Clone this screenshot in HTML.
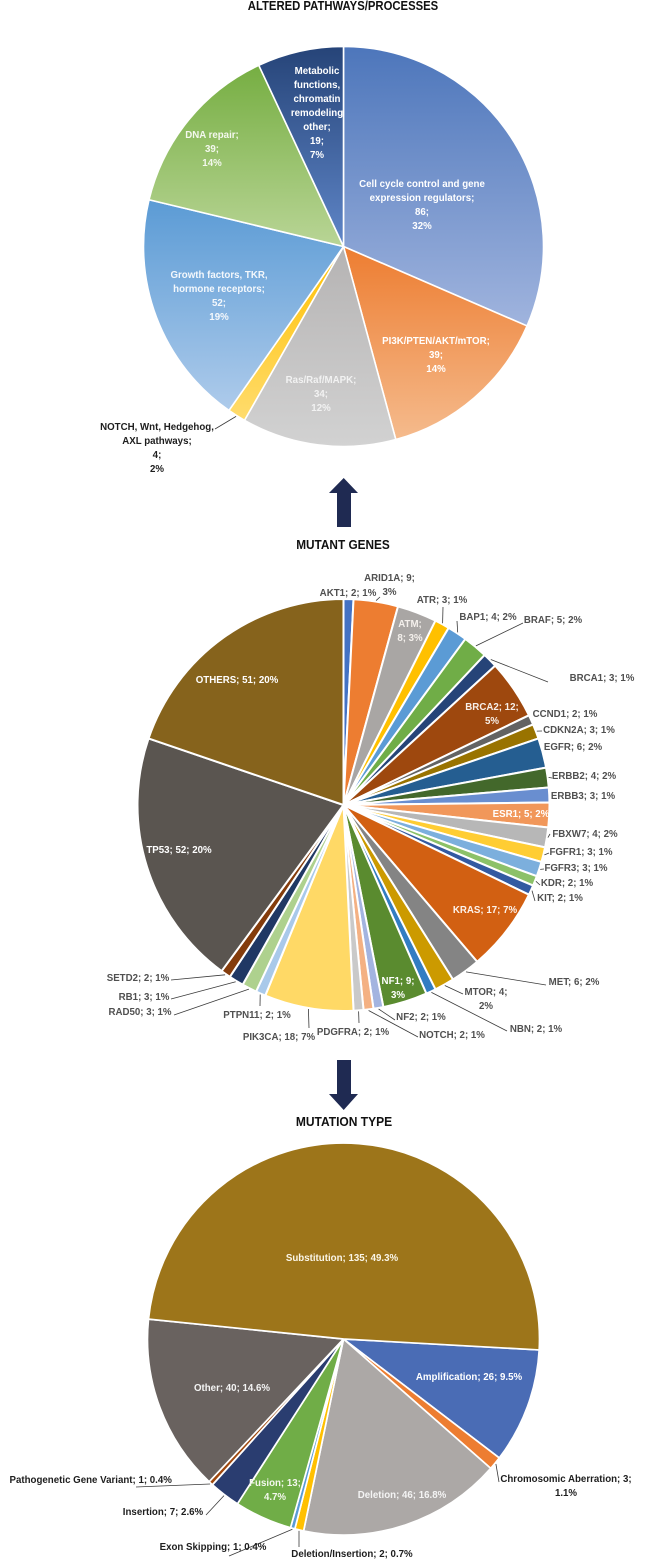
<!DOCTYPE html>
<html lang="en">
<head>
<meta charset="utf-8">
<title>Altered pathways, mutant genes and mutation types</title>
<style>
html,body{margin:0;padding:0;background:#fff;}
body{width:667px;height:1559px;overflow:hidden;}
svg{display:block;filter:blur(0.3px);}
text{font-family:"Liberation Sans",sans-serif;font-weight:bold;}
</style>
</head>
<body>
<svg id="chart" xmlns="http://www.w3.org/2000/svg" width="667" height="1559" viewBox="0 0 667 1559">
  <defs id="gradients"></defs>
  <polygon points="337,527 351,527 351,493 358,493 343.7,478 329,493 337,493" fill="#1f2a52"/>
  <polygon points="337,1060 351,1060 351,1094 358,1094 343.7,1110 329,1094 337,1094" fill="#1f2a52"/>
</svg>
<script>
/* ---------- data: altered pathways ---------- */
const pathwayNames = ["Cell cycle control and gene\nexpression regulators", "PI3K/PTEN/AKT/mTOR", "Ras/Raf/MAPK", "NOTCH, Wnt, Hedgehog,\nAXL pathways", "Growth factors, TKR,\nhormone receptors", "DNA repair", "Metabolic\nfunctions,\nchromatin\nremodeling\nother"];
const pathwayCounts = [86, 39, 34, 4, 52, 39, 19];
const pathwayPercents = ["32%", "14%", "12%", "2%", "19%", "14%", "7%"];

/* ---------- data: mutant genes ---------- */
const geneNames = ["AKT1", "ARID1A", "ATM", "ATR", "BAP1", "BRAF", "BRCA1", "BRCA2", "CCND1", "CDKN2A", "EGFR", "ERBB2", "ERBB3", "ESR1", "FBXW7", "FGFR1", "FGFR3", "KDR", "KIT", "KRAS", "MET", "MTOR", "NBN", "NF1", "NF2", "NOTCH", "PDGFRA", "PIK3CA", "PTPN11", "RAD50", "RB1", "SETD2", "TP53", "OTHERS"];
const geneCounts = [2, 9, 8, 3, 4, 5, 3, 12, 2, 3, 6, 4, 3, 5, 4, 3, 3, 2, 2, 17, 6, 4, 2, 9, 2, 2, 2, 18, 2, 3, 3, 2, 52, 51];
const genePercents = ["1%", "3%", "3%", "1%", "2%", "2%", "1%", "5%", "1%", "1%", "2%", "2%", "1%", "2%", "2%", "1%", "1%", "1%", "1%", "7%", "2%", "2%", "1%", "3%", "1%", "1%", "1%", "7%", "1%", "1%", "1%", "1%", "20%", "20%"];

/* ---------- data: mutation types ---------- */
const mutationNames = ["Amplification", "Chromosomic Aberration", "Deletion", "Deletion/Insertion", "Exon Skipping", "Fusion", "Insertion", "Pathogenetic Gene Variant", "Other", "Substitution"];
const mutationCounts = [26, 3, 46, 2, 1, 13, 7, 1, 40, 135];
const mutationPercents = ["9.5%", "1.1%", "16.8%", "0.7%", "0.4%", "4.7%", "2.6%", "0.4%", "14.6%", "49.3%"];

/* ---------- styling and layout (separate from data) ---------- */
const pathwayGradients = [["#4d76bb","#a0b4de"],["#ed7d31","#f5bb8d"],["#b5b3b3","#d2d2d2"],["#ffc000","#ffdc6e"],["#5b9bd5","#aecbeb"],["#76ae42","#b9d596"],["#264478","#5f86c8"]];
const geneColors = ["#4472c4","#ed7d31","#a9a6a4","#ffc000","#5b9bd5","#70ad47","#264478","#9e480e","#636363","#997300","#255e91","#43682b","#698ed0","#f1975a","#b7b7b7","#ffcd33","#7cafdd","#8cc168","#335aa1","#d26012","#848484","#cc9a00","#327dc2","#5a8b2f","#a3b4e0","#f4b183","#c9c9c9","#ffd966","#a9c9ea","#aed18e","#203864","#843c0c","#5a5550","#86631c"];
const mutationColors = ["#4a6cb5","#ed7d31","#aca8a6","#ffc000","#5b9bd5","#70ad47","#2a3d70","#9e480e","#69625f","#9d751a"];

const WHITE = "#ffffff", DARK = "#1e1e1e", GREY = "#505050";

const pathwayLabels = [
 {x:422,y:187,fill:WHITE,wrap:"stack"},
 {x:436,y:344,fill:WHITE,wrap:"stack"},
 {x:321,y:383,fill:"#f2f2f2",wrap:"stack"},
 {x:157,y:430,fill:DARK,wrap:"stack",leader:[215,429]},
 {x:219,y:278,fill:"#f4f8fc",wrap:"stack"},
 {x:212,y:138,fill:"#f4f8ee",wrap:"stack"},
 {x:317,y:74,fill:WHITE,wrap:"stack"}
];
const geneLabels = [
 {x:348,y:596},
 {x:389.5,y:581,wrap:"pct",leader:[380,597]},
 {x:410,y:627,fill:"#f4f0ec",wrap:"name"},
 {x:442,y:603,leader:[443,607]},
 {x:488,y:620,leader:[457,621]},
 {x:553,y:623,leader:[523,623]},
 {x:602,y:681,leader:[548,682]},
 {x:492,y:710,fill:"#f7efe9",wrap:"pct"},
 {x:565,y:717},
 {x:579,y:733,leader:[542,731]},
 {x:573,y:750},
 {x:584,y:779,leader:[552,778]},
 {x:583,y:799},
 {x:521,y:817,fill:WHITE},
 {x:585,y:837,leader:[550,834]},
 {x:581,y:855,leader:[549,853]},
 {x:576,y:871,leader:[544,869]},
 {x:567,y:886,leader:[540,885]},
 {x:560,y:901,leader:[535,901]},
 {x:485,y:913,fill:"#fdf3ec"},
 {x:574,y:985,leader:[546,985]},
 {x:486,y:995,wrap:"pct",leader:[463,994]},
 {x:536,y:1032,leader:[507,1031]},
 {x:398,y:984,fill:WHITE,wrap:"pct"},
 {x:421,y:1020,leader:[395,1020]},
 {x:452,y:1038,leader:[418,1037]},
 {x:353,y:1035,leader:[359,1023]},
 {x:279,y:1040,leader:[309,1028]},
 {x:257,y:1018,leader:[260,1006]},
 {x:140,y:1015,leader:[174,1015]},
 {x:144,y:1000,leader:[171,999]},
 {x:138,y:981,leader:[171,980]},
 {x:179,y:853,fill:WHITE},
 {x:237,y:683,fill:WHITE}
];
const mutationLabels = [
 {x:469,y:1380,fill:WHITE},
 {x:566,y:1482,fill:DARK,wrap:"pct",leader:[499,1482]},
 {x:402,y:1498,fill:"#f4f4f4"},
 {x:352,y:1557,fill:DARK,leader:[299,1547]},
 {x:213,y:1550,fill:DARK,leader:[229,1556]},
 {x:275,y:1486,fill:"#f4f8ee",wrap:"pct"},
 {x:163,y:1515,fill:DARK,leader:[206,1515]},
 {x:90.7,y:1483,fill:DARK,leader:[136,1487]},
 {x:232,y:1391,fill:"#f4f4f4"},
 {x:342,y:1261,fill:"#fbf6e8"}
];

const NS = "http://www.w3.org/2000/svg";
const svg = document.getElementById("chart");
const defs = document.getElementById("gradients");
const LINE_HEIGHT = 14;
const TEXT_FONT = 10.5;
const TEXT_SQUEEZE = 0.925;

function slug(s){
  return s.toLowerCase().replace(/[^a-z0-9]+/g,"-").replace(/^-|-$/g,"");
}
function polar(cx, cy, r, deg){
  const a = deg * Math.PI / 180;
  return [cx + r * Math.sin(a), cy - r * Math.cos(a)];
}
function labelLines(name, count, pct, wrap){
  if (wrap === "stack") return (name + ";").split("\n").concat([count + ";", pct]);
  if (wrap === "pct") return [name + "; " + count + ";", pct];
  if (wrap === "name") return [name + ";", count + "; " + pct];
  return [name + "; " + count + "; " + pct];
}
function addGradient(id, stops){
  const g = document.createElementNS(NS, "linearGradient");
  g.setAttribute("id", id);
  g.setAttribute("x1", "0"); g.setAttribute("y1", "0");
  g.setAttribute("x2", "0"); g.setAttribute("y2", "1");
  stops.forEach(function(c, i){
    const s = document.createElementNS(NS, "stop");
    s.setAttribute("offset", String(i));
    s.setAttribute("stop-color", c);
    g.appendChild(s);
  });
  defs.appendChild(g);
}
function drawPie(cfg){
  const total = cfg.counts.reduce(function(a, b){ return a + b; }, 0);
  const group = document.createElementNS(NS, "g");
  
  
  svg.appendChild(group);
  let cum = 0;
  cfg.counts.forEach(function(count, i){
    const a0 = cfg.start + cum / total * 360;
    cum += count;
    const a1 = cfg.start + cum / total * 360;
    const p0 = polar(cfg.cx, cfg.cy, cfg.r, a0);
    const p1 = polar(cfg.cx, cfg.cy, cfg.r, a1);
    const large = a1 - a0 > 180 ? 1 : 0;
    const path = document.createElementNS(NS, "path");
    path.setAttribute("d", "M" + cfg.cx + " " + cfg.cy + "L" + p0[0].toFixed(2) + " " + p0[1].toFixed(2) +
      "A" + cfg.r + " " + cfg.r + " 0 " + large + " 1 " + p1[0].toFixed(2) + " " + p1[1].toFixed(2) + "Z");
    let fill;
    if (cfg.gradients) {
      const gid = cfg.id + "-grad-" + i;
      addGradient(gid, cfg.gradients[i]);
      fill = "url(#" + gid + ")";
    } else {
      fill = cfg.colors[i];
    }
    path.setAttribute("fill", fill);
    path.setAttribute("stroke", "#ffffff");
    path.setAttribute("stroke-width", cfg.stroke);
    path.setAttribute("stroke-linejoin", "round");
    
    
    group.appendChild(path);
  });
  cum = 0;
  cfg.counts.forEach(function(count, i){
    const mid = cfg.start + (cum + count / 2) / total * 360;
    cum += count;
    const lab = cfg.labels[i];
    if (lab.leader) {
      const s = polar(cfg.cx, cfg.cy, cfg.r + 1, mid);
      const line = document.createElementNS(NS, "line");
      line.setAttribute("x1", s[0].toFixed(1));
      line.setAttribute("y1", s[1].toFixed(1));
      line.setAttribute("x2", lab.leader[0]);
      line.setAttribute("y2", lab.leader[1]);
      line.setAttribute("stroke", "#3a3a3a");
      line.setAttribute("stroke-width", "0.8");
      
      
      group.appendChild(line);
    }
    const text = document.createElementNS(NS, "text");
    text.setAttribute("transform", "translate(" + lab.x + " " + lab.y + ") scale(" + TEXT_SQUEEZE + " 1)");
    text.setAttribute("text-anchor", "middle");
    text.setAttribute("font-size", TEXT_FONT);
    text.setAttribute("fill", lab.fill || cfg.labelFill);
    
    
    labelLines(cfg.names[i], count, cfg.percents[i], lab.wrap).forEach(function(str, n){
      const t = document.createElementNS(NS, "tspan");
      t.setAttribute("x", "0");
      t.setAttribute("y", String(n * LINE_HEIGHT));
      t.textContent = str;
      text.appendChild(t);
    });
    group.appendChild(text);
  });
}
function drawTitle(str, x, y, squeeze, name){
  const t = document.createElementNS(NS, "text");
  t.setAttribute("transform", "translate(" + x + " " + y + ") scale(" + squeeze + " 1)");
  t.setAttribute("text-anchor", "middle");
  t.setAttribute("font-size", "13");
  t.setAttribute("fill", "#111111");
  
  
  t.textContent = str;
  svg.appendChild(t);
}

drawTitle("ALTERED PATHWAYS/PROCESSES", 343, 10, 0.87, "pathways-title");
drawTitle("MUTANT GENES", 343, 549, 0.91, "genes-title");
drawTitle("MUTATION TYPE", 344, 1126, 0.925, "mutation-type-title");

drawPie({id:"pathways", cx:343.5, cy:246.5, r:200, start:0, stroke:1.6, names:pathwayNames, counts:pathwayCounts, percents:pathwayPercents, gradients:pathwayGradients, labels:pathwayLabels, labelFill:WHITE});
drawPie({id:"genes", cx:343.5, cy:805, r:206, start:0, stroke:2, names:geneNames, counts:geneCounts, percents:genePercents, colors:geneColors, labels:geneLabels, labelFill:GREY});
drawPie({id:"mutations", cx:343.5, cy:1339, r:196, start:93.2, stroke:1.7, names:mutationNames, counts:mutationCounts, percents:mutationPercents, colors:mutationColors, labels:mutationLabels, labelFill:DARK});
</script>
</body>
</html>
